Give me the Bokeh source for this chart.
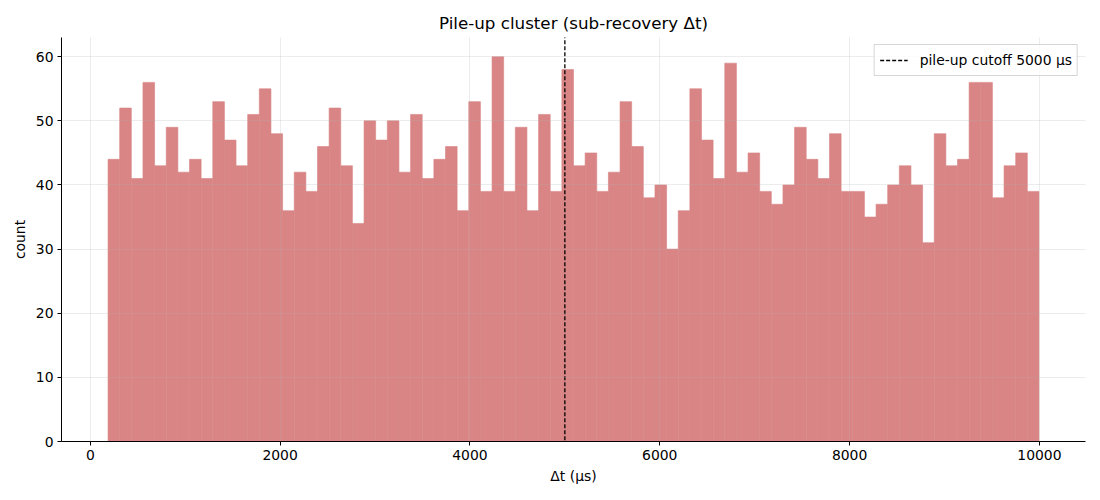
import numpy as np
from bokeh.plotting import figure
from bokeh.models import Range1d, FixedTicker, Legend, LegendItem
from bokeh.embed import file_html
from bokeh.resources import INLINE

counts = [44, 52, 41, 56, 43, 49, 42, 44, 41, 53, 47, 43, 51, 55, 48, 36,
          42, 39, 46, 52, 43, 34, 50, 47, 50, 42, 51, 41, 44, 46, 36, 53,
          39, 60, 39, 49, 36, 51, 39, 58, 43, 45, 39, 42, 53, 46, 38, 40,
          30, 36, 55, 47, 41, 59, 42, 45, 39, 37, 40, 49, 44, 41, 48, 39,
          39, 35, 37, 40, 43, 40, 31, 48, 43, 44, 56, 56, 38, 43, 45, 39]
bin_min = 187.0
bin_max = 9995.0
cutoff = 5000
x_ticks = [0, 2000, 4000, 6000, 8000, 10000]
y_ticks = [0, 10, 20, 30, 40, 50, 60]

edges = np.linspace(bin_min, bin_max, len(counts) + 1)
span_w = bin_max - bin_min

FONT = "DejaVu Sans"
BAR = "#d98585"

p = figure(output_backend="svg", toolbar_location=None,
           title="Pile-up cluster (sub-recovery Δt)",
           x_range=Range1d(bin_min - 0.05 * span_w, bin_max + 0.05 * span_w),
           y_range=Range1d(0, max(counts) * 1.05),
           min_border_left=61, min_border_right=6, min_border_top=37, min_border_bottom=50)
p.frame_width = 1024
p.frame_height = 404

p.quad(left=edges[:-1], right=edges[1:], bottom=0, top=counts,
       fill_color=BAR, line_color=BAR, line_width=0.6)

vl = p.line(x=[cutoff, cutoff], y=[-1000, 1000], line_color="black", line_dash="4 2", line_width=1.3)

p.title.text_font = FONT
p.title.text_font_size = "16.7px"
p.title.text_font_style = "normal"
p.title.align = "center"
p.title.text_color = "black"

for ax in (p.xaxis[0], p.yaxis[0]):
    ax.axis_label_text_font = FONT
    ax.axis_label_text_font_size = "13.9px"
    ax.axis_label_text_font_style = "normal"
    ax.axis_label_text_color = "black"
    ax.major_label_text_font = FONT
    ax.major_label_text_font_size = "13.9px"
    ax.major_label_text_color = "black"
    ax.axis_line_color = "black"
    ax.major_tick_line_color = "black"
    ax.major_tick_in = 0
    ax.major_tick_out = 4
    ax.minor_tick_line_color = None
    ax.axis_label_standoff = 5

p.xaxis[0].axis_label = "Δt (μs)"
p.yaxis[0].axis_label = "count"
p.xaxis[0].ticker = FixedTicker(ticks=x_ticks)
p.yaxis[0].ticker = FixedTicker(ticks=y_ticks)
p.xaxis[0].major_label_standoff = 4
p.yaxis[0].major_label_standoff = 4

p.xgrid.ticker = FixedTicker(ticks=x_ticks)
p.ygrid.ticker = FixedTicker(ticks=y_ticks)
p.grid.grid_line_color = "#b0b0b0"
p.grid.grid_line_alpha = 0.3
p.grid.grid_line_width = 0.8
p.grid.level = "overlay"
p.outline_line_color = None

legend = Legend(items=[LegendItem(label="pile-up cutoff 5000 μs", renderers=[vl])],
                location="top_right")
legend.label_text_font = FONT
legend.label_text_font_size = "13.9px"
legend.label_text_color = "black"
legend.border_line_color = "#cccccc"
legend.border_line_alpha = 0.8
legend.background_fill_alpha = 0.8
legend.margin = 7
legend.padding = 5
legend.glyph_width = 28
legend.label_standoff = 12
legend.spacing = 0
p.add_layout(legend)

open("out.html", "w").write(file_html(p, INLINE))
